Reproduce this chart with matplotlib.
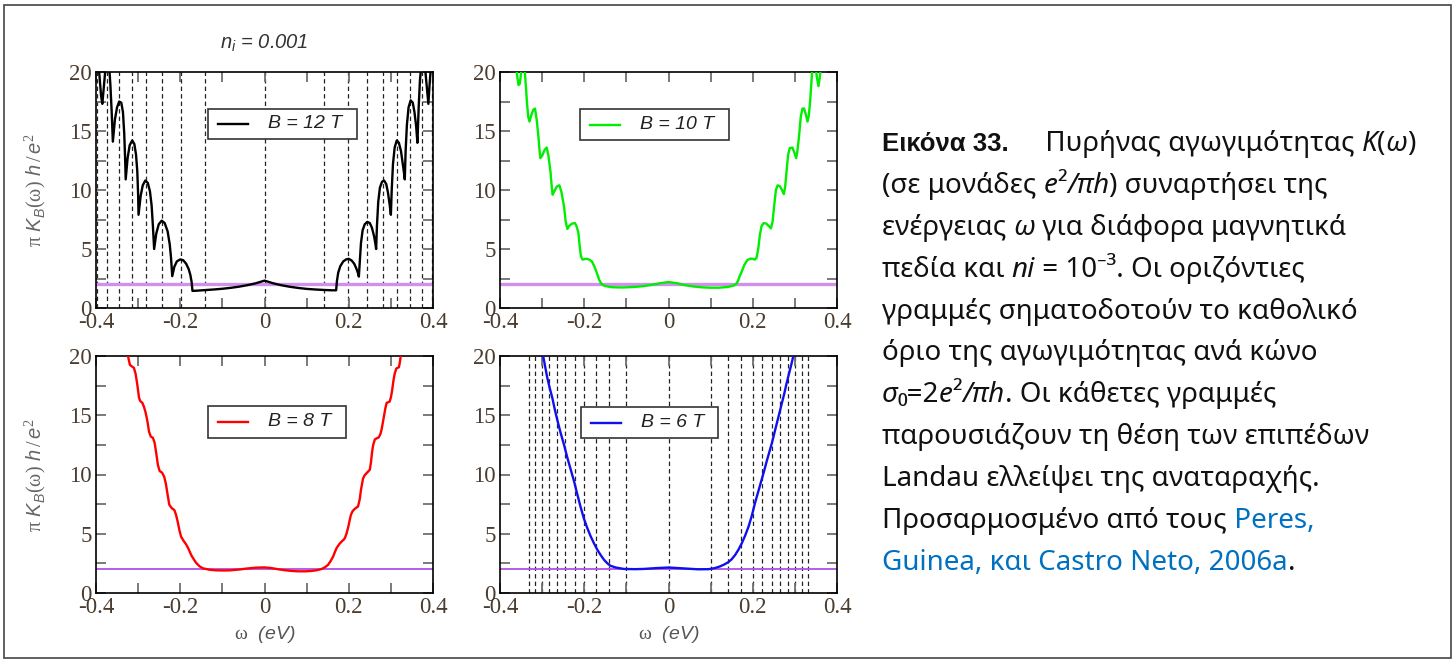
import matplotlib.pyplot as plt
import numpy as np
from matplotlib.patches import Rectangle

plt.rcParams['mathtext.fontset'] = 'custom'
plt.rcParams['mathtext.it'] = 'Liberation Sans:italic'
plt.rcParams['mathtext.rm'] = 'Liberation Serif'
plt.rcParams['mathtext.bf'] = 'Liberation Sans:bold'

# curves: (omega in eV, pi K_B h / e^2)
curve_12 = [(-0.400, 22.0), (-0.396, 21.0), (-0.392, 19.8), (-0.388, 18.0), (-0.385, 17.3),
            (-0.381, 18.9), (-0.377, 20.5), (-0.373, 21.2), (-0.369, 20.6), (-0.366, 19.0), (-0.363, 16.8), (-0.360, 14.1),
            (-0.355, 16.0), (-0.350, 17.0), (-0.345, 17.5), (-0.340, 17.4), (-0.336, 16.6), (-0.333, 14.8), (-0.331, 12.8), (-0.3295, 10.9),
            (-0.325, 12.7), (-0.320, 13.8), (-0.314, 14.2), (-0.309, 13.9), (-0.305, 13.0), (-0.302, 11.6), (-0.300, 9.6), (-0.299, 7.9),
            (-0.294, 9.5), (-0.289, 10.4), (-0.283, 10.8), (-0.277, 10.6), (-0.272, 9.9), (-0.268, 8.7), (-0.265, 7.0), (-0.262, 5.0),
            (-0.257, 6.3), (-0.251, 7.1), (-0.244, 7.4), (-0.237, 7.2), (-0.230, 6.5), (-0.225, 5.4), (-0.222, 4.3), (-0.219, 2.7),
            (-0.214, 3.5), (-0.208, 3.95), (-0.200, 4.12), (-0.193, 4.05), (-0.186, 3.75), (-0.180, 3.3), (-0.176, 2.8), (-0.173, 2.2), (-0.171, 1.45),
            (-0.160, 1.47), (-0.140, 1.52), (-0.120, 1.57), (-0.100, 1.63), (-0.080, 1.71), (-0.060, 1.81), (-0.040, 1.94), (-0.020, 2.1), (0.000, 2.32),
            (0.020, 2.1), (0.040, 1.93), (0.060, 1.80), (0.080, 1.70), (0.100, 1.62), (0.120, 1.57), (0.140, 1.53), (0.160, 1.50), (0.170, 1.50),
            (0.172, 2.3), (0.175, 3.0), (0.180, 3.55), (0.187, 3.95), (0.194, 4.12), (0.200, 4.17), (0.207, 4.02), (0.213, 3.75), (0.218, 3.35), (0.222, 2.95), (0.224, 2.66),
            (0.226, 3.8), (0.229, 5.5), (0.233, 6.6), (0.238, 7.1), (0.244, 7.3), (0.250, 7.2), (0.255, 6.8), (0.260, 6.1), (0.263, 5.5), (0.265, 5.0),
            (0.267, 7.0), (0.270, 9.0), (0.274, 10.2), (0.279, 10.7), (0.284, 10.8), (0.289, 10.5), (0.293, 9.8), (0.297, 8.8), (0.300, 7.9),
            (0.302, 10.0), (0.305, 12.2), (0.309, 13.6), (0.314, 14.2), (0.319, 14.0), (0.324, 13.3), (0.328, 12.3), (0.331, 11.5), (0.333, 10.9),
            (0.335, 13.3), (0.338, 15.5), (0.342, 17.0), (0.347, 17.6), (0.352, 17.4), (0.356, 16.6), (0.360, 15.4), (0.363, 14.0),
            (0.366, 17.0), (0.369, 19.3), (0.373, 20.8), (0.377, 21.3), (0.381, 20.4), (0.385, 18.8), (0.389, 17.3),
            (0.392, 19.0), (0.395, 20.4), (0.400, 22.0)]

curve_10 = [(-0.368, 23.0), (-0.362, 20.6), (-0.359, 19.6), (-0.356, 18.9), (-0.353, 19.0), (-0.350, 19.9), (-0.346, 21.0),
            (-0.343, 20.8), (-0.341, 20.0), (-0.338, 18.5), (-0.336, 17.4), (-0.333, 16.2), (-0.330, 15.8), (-0.326, 16.3),
            (-0.321, 16.8), (-0.317, 16.9), (-0.313, 16.0), (-0.309, 14.6), (-0.306, 13.3), (-0.304, 12.7), (-0.300, 12.9),
            (-0.294, 13.4), (-0.289, 13.6), (-0.285, 12.9), (-0.280, 11.5), (-0.277, 10.2), (-0.275, 9.6), (-0.271, 9.9),
            (-0.265, 10.3), (-0.259, 10.4), (-0.254, 9.8), (-0.248, 8.6), (-0.244, 7.3), (-0.240, 6.7), (-0.236, 6.95),
            (-0.229, 7.15), (-0.222, 7.2), (-0.218, 6.9), (-0.214, 6.4), (-0.211, 5.3), (-0.208, 4.4), (-0.204, 4.1),
            (-0.199, 4.15), (-0.194, 4.17), (-0.188, 4.1), (-0.182, 3.95), (-0.177, 3.6), (-0.173, 3.25), (-0.169, 2.85),
            (-0.165, 2.43), (-0.161, 2.15), (-0.157, 1.98), (-0.150, 1.86), (-0.134, 1.76), (-0.110, 1.74), (-0.087, 1.77),
            (-0.060, 1.85), (-0.040, 1.96), (-0.020, 2.1), (0.000, 2.2),
            (0.020, 2.1), (0.040, 1.93), (0.060, 1.82), (0.080, 1.75), (0.100, 1.72), (0.120, 1.72), (0.140, 1.78),
            (0.155, 1.9), (0.161, 2.05), (0.165, 2.3), (0.169, 2.7), (0.174, 3.1), (0.180, 3.65), (0.187, 4.05),
            (0.194, 4.18), (0.200, 4.17), (0.205, 4.1), (0.209, 4.25), (0.213, 5.0), (0.217, 6.2), (0.221, 6.95),
            (0.226, 7.2), (0.232, 7.15), (0.238, 6.95), (0.243, 6.75), (0.247, 7.3), (0.251, 8.7), (0.255, 10.0),
            (0.259, 10.4), (0.265, 10.3), (0.270, 9.95), (0.274, 9.65), (0.277, 10.3), (0.280, 11.5), (0.284, 13.0),
            (0.288, 13.55), (0.294, 13.6), (0.299, 13.15), (0.303, 12.7), (0.306, 13.3), (0.310, 14.6), (0.314, 16.2),
            (0.318, 16.9), (0.322, 16.9), (0.326, 16.4), (0.330, 15.8), (0.333, 16.3), (0.336, 17.4), (0.339, 19.0),
            (0.341, 20.0), (0.345, 21.0), (0.349, 20.6), (0.352, 19.6), (0.356, 18.8), (0.359, 19.5), (0.362, 20.5),
            (0.368, 23.0)]

curve_8 = [(-0.335, 22.5), (-0.327, 20.6), (-0.3235, 19.9), (-0.3195, 19.25), (-0.314, 19.1), (-0.310, 19.0),
           (-0.306, 18.5), (-0.302, 17.6), (-0.298, 16.5), (-0.295, 16.2), (-0.290, 16.05), (-0.286, 15.7),
           (-0.282, 15.2), (-0.278, 14.5), (-0.274, 13.6), (-0.270, 13.2), (-0.265, 13.1), (-0.261, 12.7),
           (-0.257, 11.8), (-0.253, 10.8), (-0.249, 10.3), (-0.243, 10.15), (-0.238, 9.8), (-0.234, 9.2),
           (-0.230, 8.3), (-0.226, 7.45), (-0.220, 7.15), (-0.214, 7.0), (-0.210, 6.6), (-0.206, 6.0),
           (-0.202, 5.3), (-0.198, 4.75), (-0.192, 4.4), (-0.186, 4.1), (-0.180, 3.7), (-0.174, 3.2),
           (-0.168, 2.85), (-0.162, 2.53), (-0.154, 2.25), (-0.146, 2.08), (-0.130, 1.96), (-0.114, 1.91),
           (-0.098, 1.9), (-0.083, 1.91), (-0.060, 1.98), (-0.043, 2.06), (-0.020, 2.14), (0.000, 2.16),
           (0.017, 2.1), (0.033, 2.0), (0.049, 1.92), (0.065, 1.86), (0.080, 1.83), (0.096, 1.83), (0.112, 1.86),
           (0.125, 1.93), (0.135, 2.02), (0.143, 2.16), (0.151, 2.38), (0.157, 2.7), (0.163, 3.08), (0.167, 3.45),
           (0.171, 3.78), (0.177, 4.1), (0.183, 4.34), (0.188, 4.5), (0.191, 4.65), (0.195, 5.05), (0.199, 5.6),
           (0.202, 6.1), (0.205, 6.58), (0.209, 6.9), (0.213, 7.06), (0.218, 7.2), (0.222, 7.3), (0.226, 7.9),
           (0.229, 8.7), (0.232, 9.3), (0.234, 9.67), (0.238, 9.95), (0.242, 10.1), (0.246, 10.25), (0.250, 10.4),
           (0.253, 11.1), (0.255, 11.8), (0.258, 12.5), (0.262, 12.96), (0.266, 13.05), (0.271, 13.12), (0.275, 13.4),
           (0.278, 13.8), (0.281, 14.4), (0.284, 15.0), (0.287, 15.6), (0.290, 16.05), (0.294, 16.1), (0.297, 16.15),
           (0.300, 16.5), (0.303, 17.1), (0.306, 17.9), (0.309, 18.5), (0.313, 18.95), (0.316, 19.0), (0.319, 19.05),
           (0.321, 19.4), (0.323, 19.9), (0.327, 20.5), (0.335, 22.5)]

curve_6 = [(-0.305, 22.0), (-0.297, 19.9), (-0.288, 18.2), (-0.282, 17.3), (-0.276, 16.5), (-0.270, 15.5),
           (-0.264, 14.6), (-0.256, 13.5), (-0.248, 12.5), (-0.240, 11.4), (-0.232, 10.4), (-0.224, 9.4),
           (-0.217, 8.4), (-0.209, 7.3), (-0.201, 6.3), (-0.193, 5.5), (-0.185, 4.8), (-0.177, 4.2),
           (-0.169, 3.65), (-0.161, 3.2), (-0.153, 2.8), (-0.145, 2.5), (-0.138, 2.3), (-0.125, 2.15),
           (-0.106, 2.03), (-0.080, 2.01), (-0.059, 2.03), (-0.030, 2.1), (0.000, 2.15),
           (0.025, 2.1), (0.047, 2.05), (0.070, 2.0), (0.095, 2.01), (0.110, 2.1), (0.122, 2.24), (0.132, 2.4),
           (0.142, 2.6), (0.150, 2.85), (0.158, 3.2), (0.166, 3.65), (0.174, 4.2), (0.182, 4.85), (0.190, 5.6),
           (0.198, 6.55), (0.205, 7.55), (0.213, 8.55), (0.221, 9.55), (0.227, 10.3), (0.233, 11.1), (0.239, 11.85),
           (0.245, 12.6), (0.251, 13.45), (0.257, 14.3), (0.263, 15.15), (0.269, 16.0), (0.275, 16.85), (0.280, 17.65),
           (0.286, 18.5), (0.291, 19.2), (0.296, 19.95), (0.305, 22.0)]

# Landau level positions (dashed lines), eV
ll_12 = [-0.398, -0.373, -0.345, -0.315, -0.282, -0.244, -0.199, -0.141, 0.0,
         0.141, 0.199, 0.244, 0.282, 0.315, 0.345, 0.373, 0.398]
ll_6 = [-0.332, -0.316, -0.300, -0.283, -0.264, -0.245, -0.223, -0.200, -0.173, -0.141, -0.100, 0.0,
        0.100, 0.141, 0.173, 0.200, 0.223, 0.245, 0.264, 0.283, 0.300, 0.316, 0.332]

sigma0 = 2.0
fields = ['B = 12 T', 'B = 10 T', 'B = 8 T', 'B = 6 T']
colors = ['black', '#00ee00', '#ff0000', '#1010ee']
xticks = [-0.4, -0.2, 0, 0.2, 0.4]
xticklabels = ['-0.4', '-0.2', '0', '0.2', '0.4']
yticks = [0, 5, 10, 15, 20]
yticklabels = ['0', '5', '10', '15', '20']

fig = plt.figure(figsize=(14.56, 6.63), dpi=100)
W, H = 1456, 663


def box(l, r, t, b):
    return [l / W, 1 - b / H, (r - l) / W, (b - t) / H]


# axes box in px, legend box (left, top, width, height) in px, purple line style
panels = [
    ((96, 433, 72, 308), (208, 109, 149, 30), '#cf90f0', 2.4),
    ((500, 837, 72, 308), (580, 109, 149, 31), '#cf90f0', 2.4),
    ((96, 433, 356, 593), (208, 406, 138, 32), '#b050e8', 1.3),
    ((500, 837, 356, 593), (581, 407, 137, 31), '#b050e8', 1.3),
]
curves = [curve_12, curve_10, curve_8, curve_6]
levels = [ll_12, [], [], ll_6]

tickfont = dict(family='Liberation Serif', size=16.5)
for i, (ab, lb, pcol, plw) in enumerate(panels):
    l, r, t, b = ab
    ax = fig.add_axes(box(l, r, t, b))
    w = np.array([p[0] for p in curves[i]])
    k = np.array([p[1] for p in curves[i]])
    for e in levels[i]:
        ax.axvline(e, color='#222222', lw=0.9, ls=(0, (3.5, 2.5)), zorder=1)
    ax.axhline(sigma0, color=pcol, lw=plw, zorder=2)
    ax.plot(w, k, color=colors[i], lw=1.7, zorder=3)
    ax.set_xlim(-0.4, 0.4)
    ax.set_ylim(0, 20)
    ax.set_xticks(xticks)
    ax.set_xticklabels(xticklabels, fontdict=tickfont, color='#4a3c2e')
    ax.set_yticks(yticks)
    ax.set_yticklabels(yticklabels, fontdict=tickfont, color='#4a3c2e')
    ax.set_xticks(np.arange(-0.3, 0.4, 0.2), minor=True)
    ax.set_yticks([2.5, 7.5, 12.5, 17.5], minor=True)
    ax.tick_params(which='both', direction='in', top=True, right=True,
                   length=7, width=1.3, color='#707070', pad=3)
    for s in ax.spines.values():
        s.set_linewidth(1.2)

    # legend box drawn in axes fraction
    fx = lambda px: (px - l) / (r - l)
    fy = lambda py: (b - py) / (b - t)
    bx, by, bw, bh = lb
    ax.add_patch(Rectangle((fx(bx), fy(by + bh)), bw / (r - l), bh / (b - t),
                           transform=ax.transAxes, fc='white', ec='#333333', lw=1.2, zorder=5))
    yc = fy(by + bh / 2)
    ax.plot([fx(bx + 10), fx(bx + 40)], [yc, yc], transform=ax.transAxes,
            color=colors[i], lw=1.7, zorder=6)
    ax.text(fx(bx + 60), yc, fields[i], transform=ax.transAxes, va='center', ha='left',
            family='Liberation Sans', style='italic', fontsize=14, color='#222222', zorder=6)

    if i in (0, 2):
        ax.set_ylabel(r'$\mathrm{\pi}\ K_B(\mathrm{\omega})\ h\,/\,e^2$', fontsize=14.5,
                      color='#666666', labelpad=15)
    if i in (2, 3):
        ax.set_xlabel(r'$\mathrm{\omega}$  (eV)', fontsize=14, family='Liberation Sans',
                      style='italic', color='#555555', labelpad=4)

fig.text(264.5 / W, 1 - 43 / H, r'$n_i$ = 0.001', fontsize=14.5, family='Liberation Sans',
         style='italic', color='#333333', ha='center', va='center')

# caption on the right
cap_font = ['Noto Sans', 'DejaVu Sans']
caption = [
    [('Εικόνα 33.', 'b'), ('     Πυρήνας αγωγιμότητας ', 'n'), ('K', 'i'), ('(', 'n'), ('ω', 'i'), (')', 'n')],
    [('(σε μονάδες ', 'n'), ('e', 'i'), ('²', 'n'), ('/πh', 'i'), (') συναρτήσει της', 'n')],
    [('ενέργειας ', 'n'), ('ω', 'i'), (' για διάφορα μαγνητικά', 'n')],
    [('πεδία και ', 'n'), ('ni', 'i'), (' = 10⁻³. Οι οριζόντιες', 'n')],
    [('γραμμές σηματοδοτούν το καθολικό', 'n')],
    [('όριο της αγωγιμότητας ανά κώνο', 'n')],
    [('σ', 'i'), ('₀=2', 'n'), ('e', 'i'), ('²', 'n'), ('/πh', 'i'), ('. Οι κάθετες γραμμές', 'n')],
    [('παρουσιάζουν τη θέση των επιπέδων', 'n')],
    [('Landau ελλείψει της αναταραχής.', 'n')],
    [('Προσαρμοσμένο από τους', 'n'), (' Peres,', 'l')],
    [('Guinea, και Castro Neto, 2006a', 'l'), ('.', 'n')],
]

renderer = fig.canvas.get_renderer()
y0 = 151
for j, runs in enumerate(caption):
    x = 882
    y = 1 - (y0 + 41.9 * j) / H
    for s, st in runs:
        kw = dict(fontsize=20, family=cap_font, va='baseline', ha='left', color='#111111')
        if st == 'b':
            kw['family'] = ['Liberation Sans', 'DejaVu Sans']
            kw['fontweight'] = 'bold'
            kw['fontsize'] = 18.5
        if st == 'i':
            kw['fontstyle'] = 'italic'
        if st == 'l':
            kw['color'] = '#0070c0'
        t = fig.text(x / W, y, s, **kw)
        x = t.get_window_extent(renderer).x1

fig.patches.append(Rectangle((4 / W, 5 / H), 1447 / W, 653 / H, transform=fig.transFigure,
                             fill=False, ec='#444444', lw=1.2))

fig.savefig('out.png', dpi=100)
